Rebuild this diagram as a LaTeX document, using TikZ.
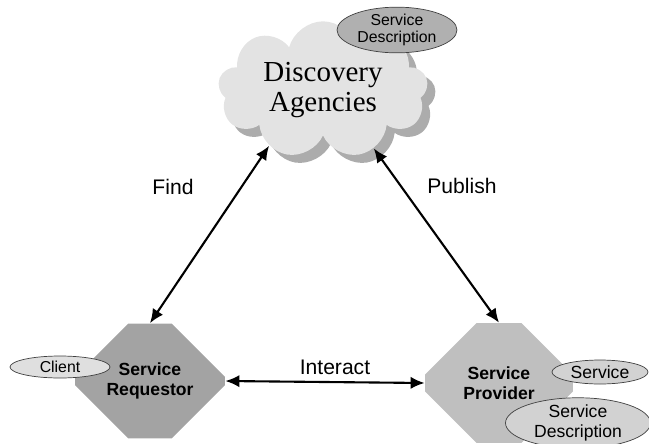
\documentclass[tikz,border=0pt]{standalone}
\usepackage{fontspec}
\setmainfont{Liberation Serif}
\setsansfont{Liberation Sans}
\usetikzlibrary{shapes.symbols,shapes.geometric,shapes.misc,shadows,arrows.meta}

\tikzset{
  svcoval/.style={ellipse, draw=black!75, thin, inner sep=0pt, align=center,
    font=\sffamily\fontsize{9}{10}\selectfont},
  octa/.style={chamfered rectangle, chamfered rectangle xsep=0.95cm,
    chamfered rectangle ysep=0.7cm, inner sep=0pt, align=center,
    font=\sffamily\bfseries\fontsize{10}{11.5}\selectfont},
  link/.style={{Latex[length=8pt,width=7pt]}-{Latex[length=8pt,width=7pt]}, line width=1.2pt},
  lbl/.style={font=\sffamily\fontsize{12}{14}\selectfont},
}

\begin{document}
\begin{tikzpicture}[x=0.02cm,y=-0.02cm]
\useasboundingbox (0,0) rectangle (649,443);
% discovery agencies
\node[cloud, cloud puffs=9, aspect=1.7, fill=gray!22, minimum width=4.2cm, minimum height=2.6cm,
  inner sep=0pt, align=center, font=\fontsize{16.5}{17.5}\selectfont,
  drop shadow={shadow xshift=0.16cm, shadow yshift=-0.16cm, fill=gray!65, opacity=1}]
  (disc) at (323,90) {Discovery\\Agencies};
\node[svcoval, fill=gray!62, minimum width=2.4cm, minimum height=0.88cm]
  (sdtop) at (397,30) {Service\\Description};
% requestor and provider
\node[octa, fill=gray!72, minimum width=3cm, minimum height=2.3cm] (req) at (150,381) {Service\\Requestor};
\node[svcoval, fill=gray!25, minimum width=2cm, minimum height=0.44cm] (client) at (60,367) {Client};
\node[octa, fill=gray!50, minimum width=2.96cm, minimum height=2.4cm] (prov) at (499,383) {Service\\Provider};
\node[svcoval, fill=gray!35, minimum width=1.92cm, minimum height=0.48cm,
  font=\sffamily\fontsize{10}{11}\selectfont] (svc) at (600,372) {Service};
\node[svcoval, fill=gray!35, minimum width=2.9cm, minimum height=0.92cm,
  font=\sffamily\fontsize{10}{11}\selectfont] (sdbot) at (578,423) {Service\\Description};
% links
\draw[link] (disc.226) -- (req.north);
\draw[link] (disc.-49) -- (prov.north);
\draw[link] (req.east) -- node[lbl, above, pos=0.55] {Interact} (prov.west);
\node[lbl] (find) at (173,187) {Find};
\node[lbl] (pub) at (462,186) {Publish};
\end{tikzpicture}
\end{document}
